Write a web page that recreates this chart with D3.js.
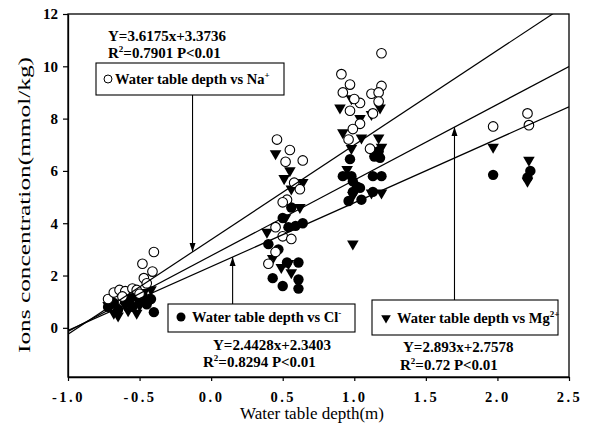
<!DOCTYPE html>
<html><head><meta charset="utf-8">
<script src="https://cdn.jsdelivr.net/npm/d3@7"></script>
<style>
body{margin:0;background:#fff;}
svg{display:block;}
text{font-family:"Liberation Serif","Times New Roman",serif;fill:#000;}
</style></head>
<body><svg id="chart" width="595" height="424"></svg>
<script>
// ---- data ----
const xTicks = [-1.0,-0.5,0.0,0.5,1.0,1.5,2.0,2.5];
const yTicks = [0,2,4,6,8,10,12];
const naPoints = [
 [-0.72,1.1],[-0.68,1.35],[-0.64,1.45],[-0.6,1.4],[-0.55,1.5],[-0.52,1.45],[-0.5,1.3],[-0.47,1.9],[-0.48,2.45],[-0.41,2.15],[-0.40,2.9],[-0.45,1.7],[-0.62,1.2],
 [0.46,7.2],[0.55,6.8],[0.52,6.35],[0.64,6.4],[0.58,5.55],[0.62,5.3],[0.53,4.9],[0.50,4.8],[0.45,3.85],[0.50,3.5],[0.56,3.4],[0.45,2.9],[0.40,2.45],
 [1.19,10.5],[0.91,9.7],[0.97,9.3],[0.92,9.0],[1.19,9.25],[1.12,8.95],[1.17,9.0],[1.04,8.6],[1.0,8.75],[1.17,8.65],[0.97,8.3],[1.13,8.2],[1.04,7.8],[0.99,7.6],[0.96,7.2],[1.11,6.85],
 [1.97,7.7],[2.21,8.2],[2.22,7.75]
];
const clPoints = [
 [-0.72,0.8],[-0.68,0.95],[-0.65,0.7],[-0.6,1.0],[-0.57,1.1],[-0.55,0.8],[-0.5,1.05],[-0.48,1.25],[-0.45,0.9],[-0.42,1.1],[-0.40,0.6],[-0.52,1.35],
 [0.56,4.6],[0.50,4.2],[0.54,3.85],[0.59,3.9],[0.64,4.0],[0.40,3.2],[0.53,2.5],[0.61,2.5],[0.43,1.9],[0.50,1.6],[0.61,1.85],[0.61,1.5],[0.47,3.0],
 [0.97,6.45],[1.14,6.55],[1.17,6.75],[0.92,5.8],[0.98,5.8],[1.13,5.8],[1.19,5.8],[1.02,5.4],[1.04,5.35],[1.13,5.2],[0.96,4.85],[1.05,4.9],[0.99,5.6],[0.99,5.2],[1.18,6.5],
 [1.97,5.85],[2.23,6.0],[2.21,5.75]
];
const mgPoints = [
 [-0.72,0.9],[-0.68,0.6],[-0.65,0.5],[-0.62,1.3],[-0.58,0.7],[-0.55,1.2],[-0.5,0.9],[-0.47,1.4],[-0.44,1.1],[-0.42,1.5],[-0.6,0.9],[-0.52,0.6],
 [0.45,6.7],[0.55,6.05],[0.51,5.75],[0.56,5.35],[0.64,5.6],[0.62,4.65],[0.52,4.25],[0.39,3.7],[0.43,2.7],[0.49,2.35],[0.56,2.15],[0.54,2.5],
 [0.90,8.45],[0.98,8.8],[1.12,8.2],[1.18,8.45],[1.04,8.05],[0.92,7.5],[1.05,7.3],[1.17,7.3],[0.98,6.9],[1.19,6.95],[0.95,6.1],[1.12,5.2],[1.19,5.2],[0.99,5.1],[0.99,3.25],
 [1.97,6.95],[2.22,6.45],[2.21,5.65]
];
// regression fits [slope, intercept]
const naFit = [3.6175, 3.3736];
const clFit = [2.4428, 2.3403];
const mgFit = [2.893, 2.7578];
// x position (data units) where each callout arrow meets its fit line
const naArrowX = -0.13, clArrowX = 0.15, mgArrowX = 1.70;

// ---- chart ----
const svg = d3.select("#chart");
const L=68, R=569, T=14, B=377;
const x = d3.scaleLinear().domain([-1,2.5]).range([L,R]);
const y = d3.scaleLinear().domain([-1.88,12]).range([B,T]);

svg.append("defs").append("clipPath").attr("id","clip")
  .append("rect").attr("x",L).attr("y",T).attr("width",R-L).attr("height",B-T);

// points
const tri = d3.symbol().type(d3.symbolTriangle).size(58);
const gPts = svg.append("g");
gPts.selectAll(".cl").data(clPoints).join("circle")
  .attr("cx",d=>x(d[0])).attr("cy",d=>y(d[1])).attr("r",5.2).attr("fill","#000");
gPts.selectAll(".mg").data(mgPoints).join("path")
  .attr("d",tri()).attr("transform",d=>`translate(${x(d[0])},${y(d[1])+1}) rotate(180)`).attr("fill","#000");
gPts.selectAll(".na").data(naPoints).join("circle")
  .attr("cx",d=>x(d[0])).attr("cy",d=>y(d[1])).attr("r",4.8).attr("fill","#fff").attr("stroke","#000").attr("stroke-width",1.1);

// fit lines
const gL = svg.append("g").attr("clip-path","url(#clip)");
[naFit,clFit,mgFit].forEach(f=>{
  gL.append("line").attr("x1",x(-1)).attr("y1",y(f[0]*-1+f[1]))
    .attr("x2",x(2.5)).attr("y2",y(f[0]*2.5+f[1]))
    .attr("stroke","#000").attr("stroke-width",1.2);
});

// frame
svg.append("rect").attr("x",L).attr("y",T).attr("width",R-L).attr("height",B-T)
  .attr("fill","none").attr("stroke","#000").attr("stroke-width",1.3);

// axes
const fmt = v => d3.format(".1f")(v).replace("\u2212","-");
const xa = svg.append("g").attr("transform",`translate(0,${B})`)
  .call(d3.axisBottom(x).tickValues(xTicks).tickSize(4).tickSizeOuter(0).tickFormat(fmt));
const ya = svg.append("g").attr("transform",`translate(${L},0)`)
  .call(d3.axisLeft(y).tickValues(yTicks).tickSize(5).tickSizeOuter(0).tickFormat(d3.format("d")));
[xa,ya].forEach(a=>{a.select(".domain").attr("stroke","#000").attr("stroke-width",1.3);
  a.selectAll(".tick line").attr("stroke","#000").attr("stroke-width",1.2);});
xa.selectAll(".tick text").attr("dy",null).attr("y",25).attr("font-size",14.5).attr("font-weight","bold")
  .attr("letter-spacing","2.5px").attr("font-family","Liberation Serif");
ya.selectAll(".tick text").attr("x",-10).attr("font-size",15).attr("font-weight","bold")
  .attr("font-family","Liberation Serif");

// axis titles
svg.append("text").attr("x",312).attr("y",419).attr("text-anchor","middle")
  .attr("font-size",17).text("Water table depth(m)");
svg.append("text").attr("transform","translate(30,205) rotate(-90)").attr("text-anchor","middle")
  .attr("font-size",17).attr("textLength",296).attr("lengthAdjust","spacingAndGlyphs")
  .text("Ions concentration(mmol/kg)");

// callouts
function arrow(x0,y0,y1){
  svg.append("line").attr("x1",x0).attr("y1",y0).attr("x2",x0).attr("y2",y1)
    .attr("stroke","#000").attr("stroke-width",1.1);
  const dir = y1>y0?1:-1;
  svg.append("path").attr("d",`M${x0},${y1} L${x0-3},${y1-dir*9} L${x0+3},${y1-dir*9} Z`).attr("fill","#000");
}
function box(x0,y0,w,h){
  svg.append("rect").attr("x",x0).attr("y",y0).attr("width",w).attr("height",h)
    .attr("fill","#fff").attr("stroke","#000").attr("stroke-width",1.1);
}
// parts: strings (normal) or {t} superscripts; baseline restored after each superscript
function bt(xp,yp,parts,anchor,fs){
  fs = fs||15;
  const t = svg.append("text").attr("x",xp).attr("y",yp).attr("font-size",fs).attr("font-weight","bold")
    .attr("text-anchor",anchor||"start");
  let raised = false;
  parts.forEach(p=>{
    if(typeof p==="string"){ t.append("tspan").attr("dy",raised?6:0).text(p); raised=false; }
    else { t.append("tspan").attr("font-size",9).attr("dy",-6).text(p.t); raised=true; }
  });
  return t;
}

// Na
arrow(x(naArrowX),95,y(naFit[0]*naArrowX+naFit[1]));
box(96,63,188,32);
svg.append("circle").attr("cx",108).attr("cy",79).attr("r",4).attr("fill","#fff").attr("stroke","#000").attr("stroke-width",1);
bt(115,84,["Water table depth vs Na",{t:"+"}],"start",14.5);
bt(167,41,["Y=3.6175x+3.3736"],"middle");
bt(108,58,["R",{t:"2"},"=0.7901  P<0.01"]);

// Cl
arrow(x(clArrowX),304,y(clFit[0]*clArrowX+clFit[1]));
box(168,304,187,28);
svg.append("circle").attr("cx",181).attr("cy",317).attr("r",4.5).attr("fill","#000");
bt(192,322,["Water table depth vs Cl",{t:"-"}],"start",14.5);
bt(272,350,["Y=2.4428x+2.3403"],"middle");
bt(203,367,["R",{t:"2"},"=0.8294  P<0.01"]);

// Mg
arrow(x(mgArrowX),300,y(mgFit[0]*mgArrowX+mgFit[1]));
box(372,300,186,35);
svg.append("path").attr("d",tri.size(40)()).attr("transform","translate(386,318) rotate(180)").attr("fill","#000");
bt(397,323,["Water table depth vs Mg",{t:"2+"}],"start",14.5);
bt(403,352,["Y=2.893x+2.7578"]);
bt(400,370,["R",{t:"2"},"=0.72  P<0.01"]);
</script></body></html>
